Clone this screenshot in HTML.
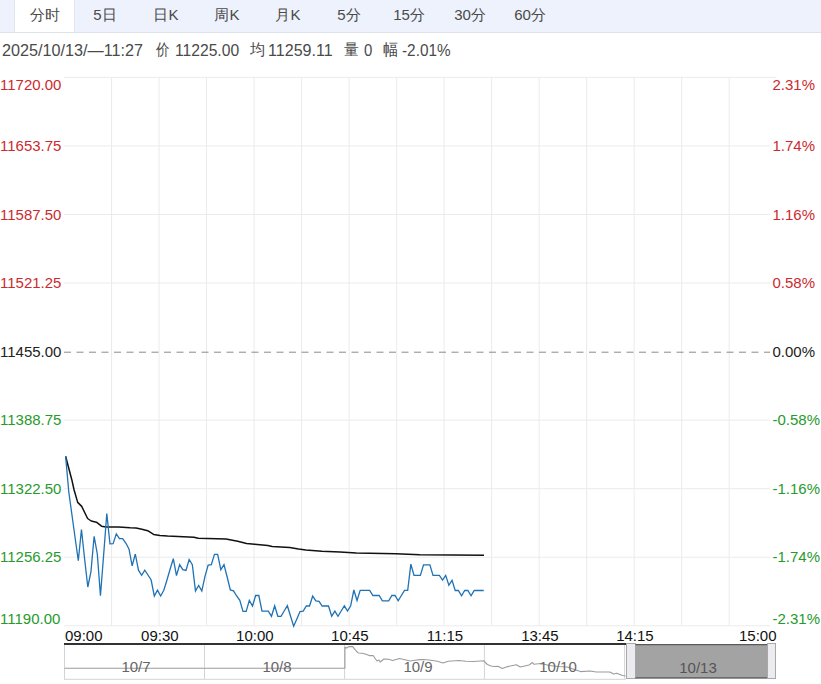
<!DOCTYPE html>
<html><head><meta charset="utf-8">
<style>
html,body{margin:0;padding:0;width:821px;height:684px;overflow:hidden;background:#fff;font-family:"Liberation Sans",sans-serif;}
.bar{position:absolute;left:0;top:0;width:821px;height:32px;background:#eef2fd;border-bottom:1px solid #dde1ea;}
.act{position:absolute;left:14px;top:0;width:59px;height:32px;background:#fff;border-left:1px solid #e2e5ee;border-right:1px solid #e2e5ee;}
.tab{position:absolute;top:0;width:60px;height:32px;line-height:30px;font-size:15px;color:#4a4a4a;text-align:center;}
.inf{position:absolute;top:41.5px;font-size:16px;line-height:18px;color:#4a4a4a;white-space:nowrap;transform-origin:0 0;}
.yl{position:absolute;left:0px;font-size:15px;line-height:18px;white-space:nowrap;}
.yr{position:absolute;left:769.5px;padding-left:3px;padding-right:10px;background:#fff;font-size:15px;line-height:18px;white-space:nowrap;}
.tl{position:absolute;top:626.5px;font-size:15px;line-height:18px;color:#111;white-space:nowrap;}
svg{position:absolute;left:0;top:0;}
.nl{position:absolute;top:658px;font-size:15px;line-height:18px;color:#666;width:80px;text-align:center;}
</style></head><body>
<div class="bar"></div><div class="act"></div>
<div class="tab" style="left:14.5px">分时</div><div class="tab" style="left:75px">5日</div><div class="tab" style="left:136px">日K</div><div class="tab" style="left:197px">周K</div><div class="tab" style="left:258px">月K</div><div class="tab" style="left:319px">5分</div><div class="tab" style="left:379px">15分</div><div class="tab" style="left:440px">30分</div><div class="tab" style="left:500px">60分</div>
<span class="inf" id="inf0" style="left:2.40px;transform:scaleX(1.0122)">2025/10/13/—11:27</span><span class="inf" id="inf1" style="top:40.5px;left:156.00px;transform:scaleX(0.8400)">价</span><span class="inf" id="inf2" style="left:175.42px;transform:scaleX(0.9781)">11225.00</span><span class="inf" id="inf3" style="top:40.5px;left:250.39px;transform:scaleX(0.9467)">均</span><span class="inf" id="inf4" style="left:268.39px;transform:scaleX(1.0048)">11259.11</span><span class="inf" id="inf5" style="top:40.5px;left:344.23px;transform:scaleX(0.9187)">量</span><span class="inf" id="inf6" style="left:364.00px;transform:scaleX(0.9333)">0</span><span class="inf" id="inf7" style="top:40.5px;left:383.00px;transform:scaleX(0.9533)">幅</span><span class="inf" id="inf8" style="left:402.43px;transform:scaleX(0.9580)">-2.01%</span>
<svg width="821" height="684" viewBox="0 0 821 684">
<g stroke="#ebebeb" stroke-width="1" fill="none"><line x1="64" y1="77.40" x2="776.5" y2="77.40" /><line x1="64" y1="145.95" x2="776.5" y2="145.95" /><line x1="64" y1="214.50" x2="776.5" y2="214.50" /><line x1="64" y1="283.05" x2="776.5" y2="283.05" /><line x1="64" y1="420.15" x2="776.5" y2="420.15" /><line x1="64" y1="488.70" x2="776.5" y2="488.70" /><line x1="64" y1="557.25" x2="776.5" y2="557.25" /><line x1="64" y1="625.80" x2="776.5" y2="625.80" /><line x1="111.55" y1="77" x2="111.55" y2="626" /><line x1="159.06" y1="77" x2="159.06" y2="626" /><line x1="206.57" y1="77" x2="206.57" y2="626" /><line x1="254.08" y1="77" x2="254.08" y2="626" /><line x1="301.59" y1="77" x2="301.59" y2="626" /><line x1="349.10" y1="77" x2="349.10" y2="626" /><line x1="396.61" y1="77" x2="396.61" y2="626" /><line x1="444.12" y1="77" x2="444.12" y2="626" /><line x1="491.63" y1="77" x2="491.63" y2="626" /><line x1="539.14" y1="77" x2="539.14" y2="626" /><line x1="586.65" y1="77" x2="586.65" y2="626" /><line x1="634.16" y1="77" x2="634.16" y2="626" /><line x1="681.67" y1="77" x2="681.67" y2="626" /><line x1="729.18" y1="77" x2="729.18" y2="626" /></g>
<line x1="64" y1="352.2" x2="771" y2="352.2" stroke="#8a8a8a" stroke-width="1" stroke-dasharray="7,5.5"/>
<path d="M65.60,456.30 L71.80,479.70 L74.10,490.00 L77.70,502.40 L81.70,506.40 L87.60,518.50 L91.20,521.00 L96.40,522.20 L101.50,526.20 L105.90,527.00 L118.50,527.00 L130.20,527.80 L136.00,528.00 L141.90,529.20 L147.70,530.70 L153.60,534.40 L160.00,535.40 L167.50,536.10 L193.90,537.30 L198.20,538.30 L226.00,539.00 L237.70,541.20 L246.60,543.50 L254.60,544.30 L267.80,545.40 L272.20,546.40 L289.70,547.50 L298.50,549.00 L305.80,550.00 L321.90,551.20 L340.00,551.90 L356.30,552.90 L395.80,553.80 L420.00,554.70 L484.00,555.35" fill="none" stroke="#111" stroke-width="1.5" stroke-linejoin="round"/>
<path d="M65.62,456.30 L68.79,492.00 L71.96,515.00 L75.13,538.00 L78.29,560.70 L81.46,529.50 L84.63,559.00 L87.80,587.00 L90.96,571.60 L94.13,536.30 L97.30,554.00 L100.46,595.80 L103.63,555.00 L106.80,513.50 L109.97,543.90 L113.13,543.60 L116.30,533.90 L119.47,538.70 L122.64,538.70 L125.80,543.00 L128.97,549.00 L132.14,565.80 L135.31,554.00 L138.47,570.20 L141.64,575.30 L144.81,570.20 L147.97,575.00 L151.14,580.00 L154.31,596.00 L157.48,590.20 L160.64,596.00 L163.81,590.20 L166.98,580.00 L170.15,569.00 L173.31,558.70 L176.48,575.60 L179.65,564.60 L182.81,569.70 L185.98,570.40 L189.15,559.50 L192.32,564.60 L195.48,590.90 L198.65,585.50 L201.82,590.90 L204.99,576.30 L208.15,565.00 L211.32,564.60 L214.49,554.40 L217.66,554.40 L220.82,569.70 L223.99,564.60 L227.16,577.00 L230.32,589.90 L233.49,590.90 L236.66,596.00 L239.83,600.40 L242.99,611.40 L246.16,611.40 L249.33,600.40 L252.50,606.00 L255.66,595.50 L258.83,595.50 L262.00,611.10 L265.17,611.10 L268.33,611.10 L271.50,616.30 L274.67,605.70 L277.83,616.30 L281.00,616.30 L284.17,611.00 L287.34,605.70 L290.50,616.00 L293.67,626.20 L296.84,619.00 L300.01,611.60 L303.17,611.10 L306.34,606.00 L309.51,606.00 L312.68,596.10 L315.84,600.90 L319.01,601.30 L322.18,606.00 L325.35,606.00 L328.51,606.00 L331.68,616.30 L334.85,611.10 L338.01,616.30 L341.18,611.00 L344.35,605.80 L347.52,611.00 L350.68,605.80 L353.85,590.00 L357.02,600.50 L360.19,590.30 L363.35,590.30 L366.52,590.30 L369.69,590.30 L372.86,595.50 L376.02,595.50 L379.19,595.50 L382.36,600.80 L385.52,600.80 L388.69,600.80 L391.86,595.50 L395.03,595.50 L398.19,600.80 L401.36,595.50 L404.53,590.30 L407.70,590.30 L410.86,564.20 L414.03,575.40 L417.20,575.40 L420.37,575.40 L423.53,564.90 L426.70,564.90 L429.87,564.90 L433.03,575.40 L436.20,575.40 L439.37,575.40 L442.54,580.00 L445.70,575.40 L448.87,585.30 L452.04,580.30 L455.21,590.50 L458.37,590.50 L461.54,595.80 L464.71,590.50 L467.88,590.50 L471.04,595.80 L474.21,590.50 L477.38,590.50 L480.54,590.50 L483.71,590.50" fill="none" stroke="#1f72b4" stroke-width="1.3" stroke-linejoin="miter"/>
<g stroke="#d4d4d4" stroke-width="1" fill="none">
<line x1="64.5" y1="645" x2="64.5" y2="679.5"/>
<line x1="64" y1="679.3" x2="626" y2="679.3"/>
<line x1="204.5" y1="645" x2="204.5" y2="679"/><line x1="344.6" y1="645" x2="344.6" y2="679"/><line x1="484.4" y1="645" x2="484.4" y2="679"/><line x1="624.6" y1="645" x2="624.6" y2="679"/></g>
<g fill="none" stroke="#9c9c9c" stroke-width="1.1" stroke-linejoin="round">
<path d="M64.5,668.3 L344.9,668.3 L344.9,647.3 L346.8,648 L348.8,646.6 L352.7,646.6 L355.1,649.7 L357.5,652.3 L358.5,653 L362,653.2 L365.3,654 L369.2,655.6 L373.1,655.5 L377,661 L379,660 L380.2,662 L383.9,659 L388.7,659.3 L392.6,660.5 L399.5,658.5 L405,659.8 L410.2,661 L415,660.2 L420,659.6 L423.9,659.5 L430.7,660.3 L437.5,661.2 L442.9,663 L448.3,661.2 L459,660.5 L466,661.2 L473.6,661.5 L483.8,660.8 L487.3,664.5 L491.2,666 L494,666.5 L497.9,666.2 L502.3,668.4 L507.7,666.6 L516.4,664.7 L520.3,667 L529.1,665 L532.5,662.5 L534,664.3 L540.8,663.5 L549.6,665.5 L558,666.5 L567,667 L576.7,670.2 L580.6,671.6 L590.3,671 L596.2,672 L609.8,672 L613.7,674 L616.7,673.3 L622.5,675.5 L625.5,676"/>
</g>
<line x1="64" y1="644" x2="626" y2="644" stroke="#333" stroke-width="2"/>
<rect x="626.5" y="643.5" width="9" height="35" fill="#ececf0" stroke="#a8a8a8" stroke-width="1"/>
<rect x="635.5" y="644" width="132" height="34.5" fill="#a3a3a3"/>
<line x1="635.5" y1="644.6" x2="767.5" y2="644.6" stroke="#5a5a5a" stroke-width="1.2"/>
<line x1="635.5" y1="677.9" x2="767.5" y2="677.9" stroke="#5a5a5a" stroke-width="1.2"/>
<rect x="767.5" y="643.5" width="8" height="35" fill="#ececf0" stroke="#a8a8a8" stroke-width="1"/>
</svg>
<div class="yl" style="top:75.6px;color:#cc2a30">11720.00</div><div class="yr" style="background:none;top:75.6px;color:#cc2a30">2.31%</div><div class="yl" style="top:136.9px;color:#cc2a30">11653.75</div><div class="yr" style="top:136.9px;color:#cc2a30">1.74%</div><div class="yl" style="top:205.5px;color:#cc2a30">11587.50</div><div class="yr" style="top:205.5px;color:#cc2a30">1.16%</div><div class="yl" style="top:274.0px;color:#cc2a30">11521.25</div><div class="yr" style="top:274.0px;color:#cc2a30">0.58%</div><div class="yl" style="top:342.6px;color:#222">11455.00</div><div class="yr" style="top:342.6px;color:#222">0.00%</div><div class="yl" style="top:411.1px;color:#279a2c">11388.75</div><div class="yr" style="top:411.1px;color:#279a2c">-0.58%</div><div class="yl" style="top:479.7px;color:#279a2c">11322.50</div><div class="yr" style="top:479.7px;color:#279a2c">-1.16%</div><div class="yl" style="top:548.2px;color:#279a2c">11256.25</div><div class="yr" style="top:548.2px;color:#279a2c">-1.74%</div><div class="yl" style="top:609.6px;color:#279a2c">11190.00</div><div class="yr" style="top:609.6px;color:#279a2c">-2.31%</div>
<div class="tl" style="left:65px">09:00</div><div class="tl" style="left:129.86px;width:60px;text-align:center">09:30</div><div class="tl" style="left:224.88px;width:60px;text-align:center">10:00</div><div class="tl" style="left:319.90px;width:60px;text-align:center">10:45</div><div class="tl" style="left:414.92px;width:60px;text-align:center">11:15</div><div class="tl" style="left:509.94px;width:60px;text-align:center">13:45</div><div class="tl" style="left:604.96px;width:60px;text-align:center">14:15</div><div class="tl" style="left:716.5px;width:60px;text-align:right">15:00</div>
<div class="nl" style="left:96px">10/7</div>
<div class="nl" style="left:237px">10/8</div>
<div class="nl" style="left:378px">10/9</div>
<div class="nl" style="left:518px">10/10</div>
<div class="nl" style="left:658px;top:659px;color:#555">10/13</div>
</body></html>
